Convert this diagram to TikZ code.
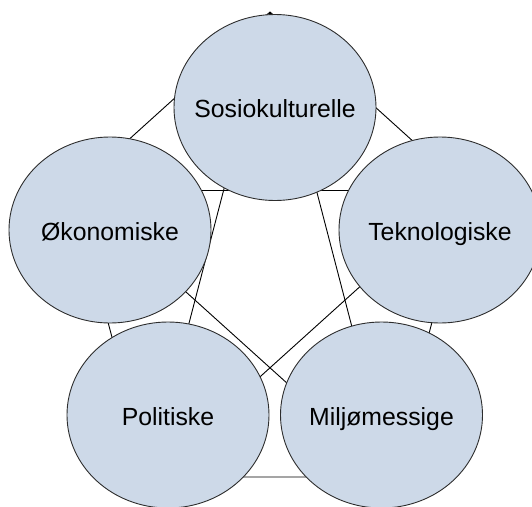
\documentclass[tikz,border=0pt]{standalone}
\usepackage{fontspec}
\setmainfont{Liberation Sans}
\usetikzlibrary{shapes.geometric}
\definecolor{bubblefill}{RGB}{205,217,232}
\definecolor{bubbleline}{RGB}{45,45,45}
\tikzset{
  factor/.style={ellipse, draw=bubbleline, line width=0.9pt, fill=bubblefill,
    minimum width=202pt, minimum height=186pt, inner sep=0pt,
    label={[factortext]center:#1}},
  factortext/.style={font=\fontsize{24.8}{30}\selectfont, text=black, inner sep=0pt,
    text height=17.8pt, text depth=0pt, yshift=-1.5pt},
  link/.style={draw=black, line width=0.9pt}
}
\begin{document}
\begin{tikzpicture}[x=1pt, y=-1pt]
  \useasboundingbox (0,0) rectangle (532,506);
  \clip (0,0) rectangle (532,506);
  % corners of the pentagon that carries the links
  \coordinate (vS) at (270,12);
  \coordinate (vO) at (73,190);
  \coordinate (vT) at (467,190);
  \coordinate (vP) at (149,477);
  \coordinate (vM) at (391,477);
  % every factor is tied to every other one
  \draw[link] (vS) -- (vO) -- (vP) -- (vM) -- (vT) -- (vS);
  \draw[link] (vS) -- (vP);
  \draw[link] (vS) -- (vM);
  \draw[link] (vO) -- (vT);
  \draw[link] (vO) -- (vM);
  \draw[link] (vT) -- (vP);
  % the five factors
  \node[factor=Sosiokulturelle] (sos) at (275,107.5) {};
  \node[factor=Økonomiske] (oko) at (110,230) {};
  \node[factor=Teknologiske] (tek) at (440,230) {};
  \node[factor=Politiske] (pol) at (168,415) {};
  \node[factor=Miljømessige] (mil) at (381.5,415) {};
\end{tikzpicture}
\end{document}
